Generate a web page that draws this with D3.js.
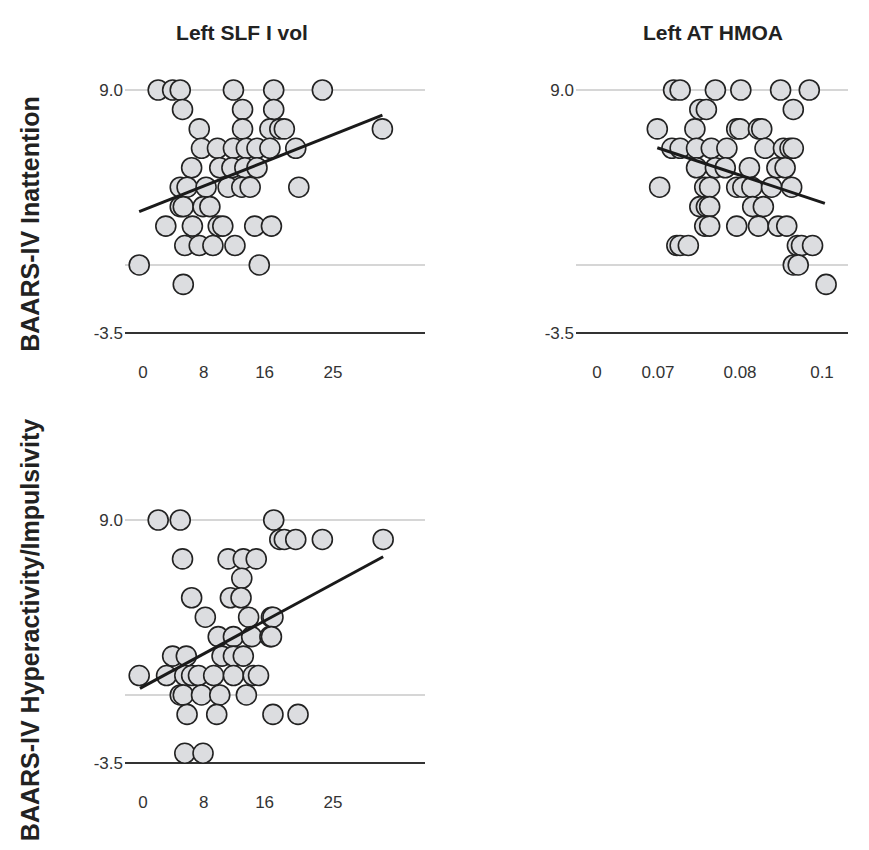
<!DOCTYPE html>
<html>
<head>
<meta charset="utf-8">
<script src="https://cdn.jsdelivr.net/npm/d3@7"></script>
<style>
  body { margin: 0; background: #fff; }
  svg { display: block; font-family: "Liberation Sans", Arial, sans-serif; }
</style>
</head>
<body>
<svg id="chart" width="869" height="850"></svg>
<script>
// --- data ---
const colTitles = ['Left SLF I vol', 'Left AT HMOA'];
const rowTitles = ['BAARS-IV Inattention', 'BAARS-IV Hyperactivity/Impulsivity'];

const yTickLabels = [-3.5, 9.0];
const yGridValues = [0, 9];

const slfTicks = [0, 8, 16, 25];
const hmoaTicks = [0, 0.07, 0.08, 0.1];

// Left SLF I vol vs inattention
const slfInattention = [
  [2.0, 9], [3.9, 9], [4.9, 9], [11.9, 9], [17.2, 9], [23.6, 9],
  [5.2, 8], [13.1, 8], [17.2, 8],
  [7.4, 7], [13.1, 7], [16.7, 7], [18.0, 7], [18.6, 7], [31.5, 7],
  [7.7, 6], [9.8, 6], [11.9, 6], [13.6, 6], [15.0, 6], [16.7, 6], [20.1, 6],
  [6.4, 5], [10.1, 5], [11.7, 5], [13.4, 5], [15.0, 5],
  [4.9, 4], [5.8, 4], [8.3, 4], [11.2, 4], [13.0, 4], [14.1, 4], [20.5, 4],
  [4.9, 3], [5.3, 3], [7.9, 3], [8.8, 3],
  [3.0, 2], [6.5, 2], [9.9, 2], [10.5, 2], [14.7, 2], [16.9, 2],
  [5.5, 1], [7.4, 1], [9.2, 1], [12.1, 1],
  [-0.5, 0], [15.3, 0],
  [5.3, -1]
];
const slfInattentionFit = [[-0.5, 2.74], [31.5, 7.71]];

// Left AT HMOA vs inattention
const hmoaInattention = [
  [0.0719, 9], [0.0727, 9], [0.0770, 9], [0.0802, 9], [0.0899, 9], [0.0969, 9],
  [0.0751, 8], [0.0759, 8], [0.0930, 8],
  [0.0692, 7], [0.0745, 7], [0.0796, 7], [0.0800, 7], [0.0845, 7], [0.0853, 7],
  [0.0717, 6], [0.0727, 6], [0.0747, 6], [0.0765, 6], [0.0784, 6], [0.0861, 6], [0.0906, 6], [0.0922, 6], [0.0930, 6],
  [0.0747, 5], [0.0770, 5], [0.0782, 5], [0.0823, 5], [0.0890, 5], [0.0910, 5],
  [0.0702, 4], [0.0757, 4], [0.0763, 4], [0.0796, 4], [0.0807, 4], [0.0829, 4], [0.0877, 4], [0.0926, 4],
  [0.0751, 3], [0.0759, 3], [0.0763, 3], [0.0831, 3], [0.0857, 3],
  [0.0757, 2], [0.0763, 2], [0.0796, 2], [0.0845, 2], [0.0893, 2], [0.0914, 2],
  [0.0723, 1], [0.0727, 1], [0.0737, 1], [0.0940, 1], [0.0950, 1], [0.0977, 1],
  [0.0930, 0], [0.0942, 0],
  [0.1010, -1]
];
const hmoaInattentionFit = [[0.0692, 6.03], [0.1007, 3.17]];

// Left SLF I vol vs hyperactivity/impulsivity
const slfHyperactivity = [
  [2.0, 9], [4.9, 9], [17.2, 9],
  [18.0, 8], [18.6, 8], [20.1, 8], [23.6, 8], [31.6, 8],
  [5.2, 7], [11.2, 7], [13.2, 7], [14.9, 7],
  [13.0, 6],
  [6.4, 5], [11.5, 5], [12.9, 5],
  [8.2, 4], [13.9, 4], [16.9, 4], [17.1, 4],
  [9.9, 3], [11.9, 3], [14.3, 3], [16.7, 3], [16.9, 3],
  [3.9, 2], [5.7, 2], [10.4, 2], [11.9, 2], [13.2, 2],
  [-0.5, 1], [3.1, 1], [5.5, 1], [6.4, 1], [7.3, 1], [9.3, 1], [11.9, 1], [14.5, 1], [15.2, 1],
  [4.9, 0], [5.3, 0], [7.7, 0], [10.1, 0], [13.6, 0],
  [5.8, -1], [9.7, -1], [17.1, -1], [20.4, -1],
  [5.5, -3], [7.9, -3]
];
const slfHyperactivityFit = [[-0.4, 0.34], [31.6, 7.11]];

// --- layout ---
const svg = d3.select('#chart');
const yRangeTop = [333, 90];
const yRangeBottom = [763, 520];
const slfRange = [125, 425];
const hmoaRange = [576, 848];

const slfScale = d3.scaleLinear().domain([0, 25]).range([143, 333]);
// the HMOA axis is not evenly spaced in the original, so piecewise
const hmoaScale = d3.scaleLinear().domain(hmoaTicks).range([597, 658, 740, 822]);

// plain hyphen, not the unicode minus d3.format uses
const yFmt = d => d3.format('.1f')(d).replace('\u2212', '-');

const panels = [
  { data: slfInattention, fit: slfInattentionFit, x: slfScale, xr: slfRange, yr: yRangeTop, ticks: slfTicks, fmt: d3.format('d') },
  { data: hmoaInattention, fit: hmoaInattentionFit, x: hmoaScale, xr: hmoaRange, yr: yRangeTop, ticks: hmoaTicks, fmt: d3.format('~g') },
  { data: slfHyperactivity, fit: slfHyperactivityFit, x: slfScale, xr: slfRange, yr: yRangeBottom, ticks: slfTicks, fmt: d3.format('d') }
];

panels.forEach(p => {
  const y = d3.scaleLinear().domain([-3.5, 9]).range(p.yr);
  const g = svg.append('g');

  // gridlines
  g.selectAll('line.grid')
    .data(yGridValues)
    .join('line')
    .attr('x1', p.xr[0]).attr('x2', p.xr[1])
    .attr('y1', d => y(d)).attr('y2', d => y(d))
    .attr('stroke', '#c8c8c8')
    .attr('stroke-width', 1.5);

  // bottom axis line
  g.append('line')
    .attr('x1', p.xr[0]).attr('x2', p.xr[1])
    .attr('y1', y(-3.5)).attr('y2', y(-3.5))
    .attr('stroke', '#333')
    .attr('stroke-width', 2);

  // y tick labels
  g.selectAll('text.ytick')
    .data(yTickLabels)
    .join('text')
    .attr('x', p.xr[0] - 2)
    .attr('y', d => y(d))
    .attr('dy', '0.35em')
    .attr('text-anchor', 'end')
    .attr('font-size', 17)
    .attr('fill', '#333')
    .text(yFmt);

  // x tick labels
  g.selectAll('text.xtick')
    .data(p.ticks)
    .join('text')
    .attr('x', d => p.x(d))
    .attr('y', y(-3.5) + 45)
    .attr('text-anchor', 'middle')
    .attr('font-size', 17)
    .attr('fill', '#333')
    .text(p.fmt);

  // points
  g.selectAll('circle')
    .data(p.data)
    .join('circle')
    .attr('cx', d => p.x(d[0]))
    .attr('cy', d => y(d[1]))
    .attr('r', 10)
    .attr('fill', '#dcdde0')
    .attr('stroke', '#222')
    .attr('stroke-width', 1.6);

  // fit line
  g.append('path')
    .datum(p.fit)
    .attr('d', d3.line().x(d => p.x(d[0])).y(d => y(d[1])))
    .attr('fill', 'none')
    .attr('stroke', '#1a1a1a')
    .attr('stroke-width', 3);
});

// column titles
svg.selectAll('text.coltitle')
  .data(colTitles)
  .join('text')
  .attr('x', (d, i) => i === 0 ? 242 : 713)
  .attr('y', 40)
  .attr('text-anchor', 'middle')
  .attr('font-size', 21)
  .attr('font-weight', 'bold')
  .attr('fill', '#222')
  .text(d => d);

// row titles
svg.selectAll('text.rowtitle')
  .data(rowTitles)
  .join('text')
  .attr('transform', (d, i) => `translate(39,${i === 0 ? 224 : 630}) rotate(-90)`)
  .attr('text-anchor', 'middle')
  .attr('font-size', 25)
  .attr('font-weight', 'bold')
  .attr('fill', '#222')
  .text(d => d);
</script>
</body>
</html>
